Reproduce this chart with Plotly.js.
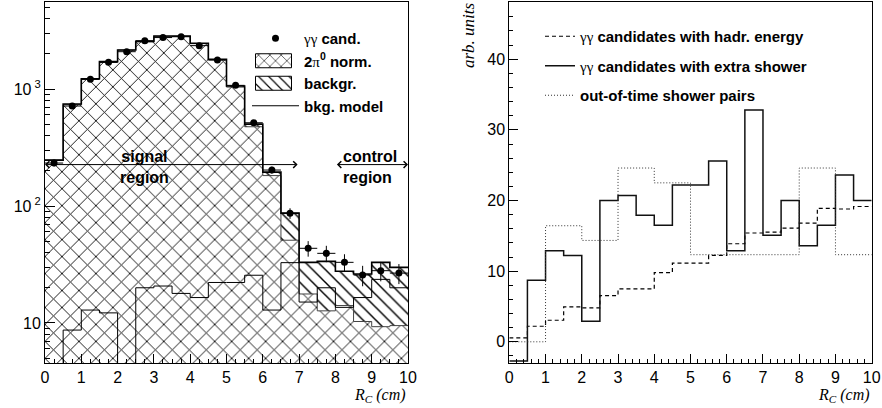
<!DOCTYPE html>
<html><head><meta charset="utf-8">
<script src="https://cdn.plot.ly/plotly-3.0.1.min.js"></script>
<style>html,body{margin:0;padding:0;background:#fff}#chart{width:882px;height:408px}</style>
</head><body><div id="chart"></div>
<script>
// ---- data ----
const binEdges = [0,0.5,1,1.5,2,2.5,3,3.5,4,4.5,5,5.5,6,6.5,7,7.5,8,8.5,9,9.5,10];
const dataCounts = [233,716,1211,1690,2085,2590,2755,2800,2350,1770,1075,515,203,86.7,43.5,39.4,33,25.7,28,26.7];
const dataErrors = [15,27,35,41,46,51,52,53,48,42,33,23,14,9,6.6,6.3,5.7,5.1,5.3,5.2];
const pi0Norm   = [247,736,1212,1703,2152,2537,2819,2822,2443,1775,1039,476,182,51,17.7,12.7,14.1,10.3,9.3,9.5];
const backgr    = [0,8.7,12.9,12.2,2.9,20,20.7,17.9,16.5,22.2,22.2,25.6,12.9,36,15.3,20.9,13.6,15.9,23.7,20.4];
const bkgModel  = [-2.7,8.7,12.9,12.2,2.9,20.0,20.7,17.9,16.5,22.2,22.2,25.6,12.9,32.8,15.1,20.0,13.6,16.5,23.6,20.0];
const hadrEnergy  = [0.56,2.2,3.05,4.94,4.8,6.54,7.48,7.48,9.8,11.15,11.15,12.23,13.88,15.4,15.53,16.1,16.8,18.9,18.8,19.15];
const extraShower = [-2.7,8.7,12.9,12.2,2.9,20.0,20.7,17.9,16.5,22.2,22.2,25.6,12.9,32.8,15.1,20.0,13.6,16.5,23.6,20.0];
const outOfTime   = [0,0,16.43,16.43,14.35,14.35,24.6,24.6,22.5,22.5,12.33,12.33,12.33,12.33,12.33,12.33,24.6,24.6,12.33,12.33];
const regionBounds = [7, 8];
const arrowLevel = 226;
const regionLineTop = 327;
const logTickVals = [10,100,1000];
const logTickText = ['10','10<sup> 2</sup>','10<sup> 3</sup>'];
const gg = '<span style="font-family:Liberation Serif;font-weight:normal">γγ</span>';
const legendLeft = [gg+' cand.',
  '2<span style="font-family:Liberation Serif;font-weight:normal">π</span><sup>0</sup> norm.',
  'backgr.','bkg. model'];
const legendRight = [gg+' candidates with hadr. energy', gg+' candidates with extra shower', 'out-of-time shower pairs'];

// ---- helpers ----
const centers = binEdges.slice(0,-1).map((e,i)=>(e+binEdges[i+1])/2);
const widths = binEdges.slice(0,-1).map((e,i)=>binEdges[i+1]-e);
const stepY = v => v.concat([v[v.length-1]]);
const total = pi0Norm.map((v,i)=>v+backgr[i]);
const halfW = widths.map(w=>w/2);
const minorLog = [];
[1,10,100,1000].forEach(d=>{for(let k=2;k<=9;k++){minorLog.push(k*d);}});

const crossPat = {shape:'x', fgcolor:'#000', bgcolor:'#fff', size:12, solidity:0.14};
const diagPat  = {shape:'\\', fgcolor:'#000', bgcolor:'#fff', size:9, solidity:0.16};

const traces = [
  {type:'bar', x:centers, y:pi0Norm, width:widths, xaxis:'x', yaxis:'y', showlegend:false,
   marker:{color:'white', line:{width:0}, pattern:crossPat}},
  {type:'bar', x:centers, y:backgr, base:pi0Norm, width:widths, xaxis:'x', yaxis:'y', showlegend:false,
   marker:{color:'white', line:{width:0}, pattern:diagPat}},
  // legend swatches: same data on a hidden overlay axis whose range excludes it (nothing drawn)
  {type:'bar', x:centers, y:pi0Norm, width:widths, xaxis:'x3', yaxis:'y', name:legendLeft[1], legendrank:2, cliponaxis:true,
   marker:{color:'white', line:{width:1, color:'#000'}, pattern:crossPat}},
  {type:'bar', x:centers, y:backgr, base:pi0Norm, width:widths, xaxis:'x3', yaxis:'y', name:legendLeft[2], legendrank:3, cliponaxis:true,
   marker:{color:'white', line:{width:1, color:'#000'}, pattern:diagPat}},
  {type:'scatter', mode:'lines', x:binEdges, y:stepY(pi0Norm), line:{shape:'hv', color:'#444', width:1}, xaxis:'x', yaxis:'y', showlegend:false},
  {type:'scatter', mode:'lines', x:binEdges, y:stepY(total), line:{shape:'hv', color:'#000', width:1.6}, xaxis:'x', yaxis:'y', showlegend:false},
  {type:'scatter', mode:'lines', x:binEdges, y:stepY(bkgModel), line:{shape:'hv', color:'#000', width:1}, xaxis:'x', yaxis:'y', name:legendLeft[3], legendrank:4},
  {type:'scatter', mode:'markers', x:centers, y:dataCounts, xaxis:'x', yaxis:'y', name:legendLeft[0], legendrank:1,
   marker:{color:'#000', size:7, symbol:'circle'},
   error_y:{type:'data', array:dataErrors, color:'#000', thickness:1, width:0},
   error_x:{type:'data', array:halfW, color:'#000', thickness:1, width:0}},
  // right panel
  {type:'scatter', mode:'lines', x:binEdges, y:stepY(hadrEnergy), xaxis:'x2', yaxis:'y2', legend:'legend2', legendgroup:'a', name:legendRight[0],
   line:{shape:'hv', color:'#000', width:1.2, dash:'4px,3px'}},
  {type:'scatter', mode:'lines', x:binEdges, y:stepY(extraShower), xaxis:'x2', yaxis:'y2', legend:'legend2', legendgroup:'b', name:legendRight[1],
   line:{shape:'hv', color:'#111', width:1.5}},
  {type:'scatter', mode:'lines', x:binEdges, y:stepY(outOfTime), xaxis:'x2', yaxis:'y2', legend:'legend2', legendgroup:'c', name:legendRight[2],
   line:{shape:'hv', color:'#333', width:1, dash:'1px,2px'}}
];

const L1 = 45/882, R1 = 408/882, L2 = 509.3/882, R2 = 871.7/882;
const yb = 45/408, yt = 406/408;
const axBase = {showline:true, mirror:true, linecolor:'#000', linewidth:1, showgrid:false, zeroline:false,
  ticks:'inside', tickcolor:'#000', tickwidth:1, tickfont:{family:'Liberation Sans, Arial', size:16, color:'#000'}};

const lg = Math.log10;
const layout = {
  width:882, height:408, margin:{l:0,r:0,t:0,b:0}, paper_bgcolor:'#fff', plot_bgcolor:'#fff',
  barmode:'overlay', bargap:0,
  font:{family:'Liberation Sans, Arial', size:16, color:'#000'},
  xaxis:Object.assign({}, axBase, {domain:[L1,R1], anchor:'y', range:[0,10], dtick:1, ticklen:9,
     minor:{dtick:0.25, ticks:'inside', ticklen:4, tickcolor:'#000', showgrid:false}}),
  xaxis3:{overlaying:'x', anchor:'y', range:[100,110], visible:false, showgrid:false, zeroline:false},
  yaxis:Object.assign({}, axBase, {domain:[yb,yt], anchor:'x', type:'log', range:[0.658,3.744], tickmode:'array',
     tickvals:logTickVals, ticktext:logTickText, ticklen:10,
     minor:{tickmode:'array', tickvals:minorLog, ticks:'inside', ticklen:5, tickcolor:'#000', showgrid:false}}),
  xaxis2:Object.assign({}, axBase, {domain:[L2,R2], anchor:'y2', range:[0,10], dtick:1, ticklen:9,
     minor:{dtick:0.2, ticks:'inside', ticklen:4, tickcolor:'#000', showgrid:false}}),
  yaxis2:Object.assign({}, axBase, {domain:[yb,yt], anchor:'x2', range:[-3,48.1], dtick:10, ticklen:9,
     minor:{dtick:2, ticks:'inside', ticklen:4, tickcolor:'#000', showgrid:false}}),
  legend:{x:247/882, xanchor:'left', y:1-22/408, yanchor:'top', bgcolor:'rgba(0,0,0,0)', traceorder:'normal',
     font:{family:'Liberation Sans, Arial', size:15, weight:'bold', color:'#000'}, itemwidth:47},
  legend2:{x:540/882, xanchor:'left', y:1-20/408, yanchor:'top', bgcolor:'rgba(0,0,0,0)', traceorder:'grouped', tracegroupgap:7,
     font:{family:'Liberation Sans, Arial', size:15, weight:'bold', color:'#000'}, itemwidth:30},
  shapes:[
    {type:'line', xref:'x', yref:'y', x0:regionBounds[0], x1:regionBounds[0], y0:0.658, y1:lg(regionLineTop), line:{color:'#000', width:1}},
    {type:'line', xref:'x', yref:'y', x0:regionBounds[1], x1:regionBounds[1], y0:0.658, y1:lg(regionLineTop), line:{color:'#000', width:1}}
  ],
  annotations:[
    {xref:'x', yref:'y', x:0, y:lg(arrowLevel), axref:'x', ayref:'y', ax:regionBounds[0], ay:lg(arrowLevel), text:'', showarrow:true,
     arrowhead:4, startarrowhead:4, arrowside:'end+start', arrowwidth:1, arrowsize:1.3, startarrowsize:1.3, arrowcolor:'#000', standoff:0, startstandoff:0},
    {xref:'x', yref:'y', x:10, y:lg(arrowLevel), axref:'x', ayref:'y', ax:regionBounds[1], ay:lg(arrowLevel), text:'', showarrow:true,
     arrowhead:4, startarrowhead:4, arrowside:'end+start', arrowwidth:1, arrowsize:1.3, startarrowsize:1.3, arrowcolor:'#000', standoff:0, startstandoff:0},
    {xref:'x', yref:'y', x:2.75, y:lg(arrowLevel), yshift:-2, text:'<b>signal<br>region</b>', showarrow:false, xanchor:'center', yanchor:'middle',
     font:{family:'Liberation Sans, Arial', size:16, color:'#000'}},
    {xref:'x', yref:'y', x:8.15, y:lg(arrowLevel), yshift:-2, text:'<b>control<br>region</b>', showarrow:false, xanchor:'left', yanchor:'middle', align:'left',
     font:{family:'Liberation Sans, Arial', size:16, color:'#000'}},
    {xref:'paper', yref:'paper', x:R1, y:1-395/408, text:'<i>R<sub>C</sub> (cm)</i>', showarrow:false, xanchor:'right', yanchor:'middle',
     font:{family:'Liberation Serif, Times New Roman', size:16, color:'#000'}},
    {xref:'paper', yref:'paper', x:R2, y:1-395/408, text:'<i>R<sub>C</sub> (cm)</i>', showarrow:false, xanchor:'right', yanchor:'middle',
     font:{family:'Liberation Serif, Times New Roman', size:16, color:'#000'}},
    {xref:'paper', yref:'paper', x:468/882, y:1, text:'<i>arb. units</i>', showarrow:false, textangle:-90, xanchor:'center', yanchor:'top',
     font:{family:'Liberation Serif, Times New Roman', size:17, color:'#000'}}
  ]
};
Plotly.newPlot('chart', traces, layout, {staticPlot:true, displayModeBar:false}).then(gd => {
  // widen the hatched legend swatches to ROOT-style boxes
  gd.querySelectorAll('.legend path.legendbar, .legend .legendpoints path').forEach(p => {
    if (p.classList.contains('legendbar') || (p.closest('.legendpoints') && p.getAttribute('d') && /H-6V-6/.test(p.getAttribute('d')))) {
      p.setAttribute('d', 'M16,7H-20V-7H16Z');
    }
  });
});
</script></body></html>
